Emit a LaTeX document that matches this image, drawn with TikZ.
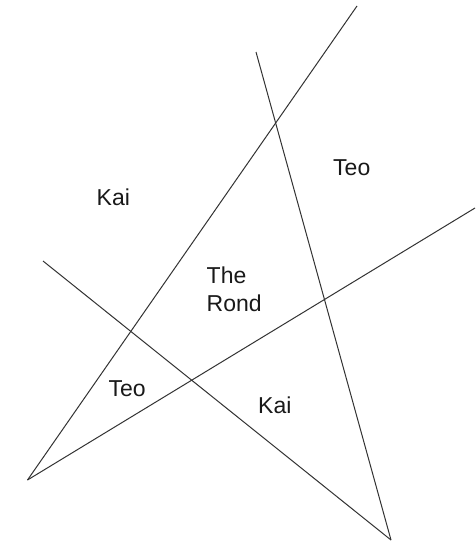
\documentclass[tikz,border=0pt]{standalone}
\usepackage{fontspec}
\setmainfont{Liberation Sans}
\begin{document}
\begin{tikzpicture}[x=1pt,y=-1pt,
  edge/.style={line width=1pt,draw=black!80},
  lbl/.style={anchor=base west,inner sep=0pt,text=black!90,font=\fontsize{23}{28.4}\selectfont}]
\useasboundingbox (0,0) rectangle (475,541);
\fill[white] (0,0) rectangle (475,541);
% end points
\coordinate (bl) at (27.5,480);
\coordinate (br) at (391,540);
\coordinate (t1) at (357,6);
\coordinate (r2) at (475,208);
\coordinate (t3) at (256,52);
\coordinate (l4) at (43,261);
% lines
\draw[edge] (bl) -- (t1);
\draw[edge] (bl) -- (r2);
\draw[edge] (t3) -- (br);
\draw[edge] (l4) -- (br);
% labels
\node[lbl] (kai1) at (96.5,205) {Kai};
\node[lbl] (teo1) at (333,175) {Teo};
\node[lbl] (the) at (206.5,283.3) {The};
\node[lbl] (rond) at (206.5,311.7) {Rond};
\node[lbl] (teo2) at (108.3,396.7) {Teo};
\node[lbl] (kai2) at (258,413.3) {Kai};
\end{tikzpicture}
\end{document}
